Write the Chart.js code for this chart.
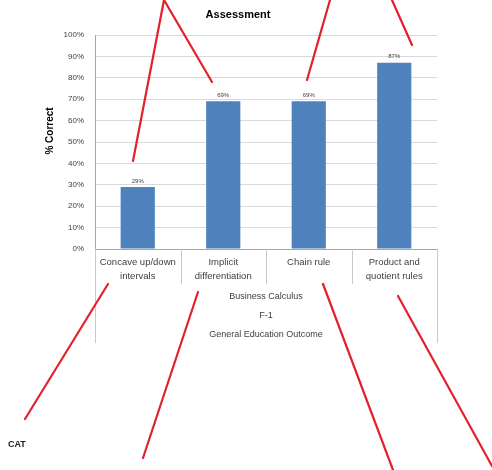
<!DOCTYPE html>
<html>
<head>
<meta charset="utf-8">
<script src="https://cdn.jsdelivr.net/npm/chart.js@4/dist/chart.umd.min.js"></script>
<style>
  html, body { margin: 0; padding: 0; background: #fff; }
  #wrap { position: relative; width: 492px; height: 470px; }
</style>
</head>
<body>
<div id="wrap"><canvas id="c" width="492" height="470"></canvas></div>
<script>
// ---- data ----
const categories = [
  ['Concave up/down', 'intervals'],
  ['Implicit', 'differentiation'],
  ['Chain rule'],
  ['Product and', 'quotient rules']
];
const groupLabels = ['Business Calculus', 'F-1', 'General Education Outcome'];
const percentCorrect = [29, 69, 69, 87];
const chartTitle = 'Assessment';
const yAxisTitle = '% Correct';
const cornerText = 'CAT';

// ---- decorative red overlay strokes (annotation, not data) ----
const overlayStrokes = [
  [[164, 0], [133, 161]],
  [[164, 0], [212, 82]],
  [[330, 0], [307, 80]],
  [[392, 0], [412, 45]],
  [[108, 284], [25, 419]],
  [[198, 292], [143, 458]],
  [[323, 284], [393, 470]],
  [[398, 296], [492, 466]]
];

const FONT = "'Liberation Sans', Arial, sans-serif";

const decorPlugin = {
  id: 'decor',
  afterDraw(chart) {
    const ctx = chart.ctx;
    const x = chart.scales.x;
    const area = chart.chartArea;
    ctx.save();
    // multi-level category separators
    ctx.strokeStyle = '#c9c9c9';
    ctx.lineWidth = 1;
    const n = categories.length;
    const step = (x.right - x.left) / n;
    for (let i = 0; i <= n; i++) {
      const px = Math.round(x.left + i * step) + 0.5;
      const bottom = (i === 0 || i === n) ? area.bottom + 94 : area.bottom + 35;
      ctx.beginPath();
      ctx.moveTo(px, area.bottom);
      ctx.lineTo(px, bottom);
      ctx.stroke();
    }
    // data labels
    const meta = chart.getDatasetMeta(0);
    ctx.fillStyle = '#404040';
    ctx.font = '6px ' + FONT;
    ctx.textAlign = 'center';
    ctx.textBaseline = 'bottom';
    meta.data.forEach((bar, i) => {
      ctx.fillText(percentCorrect[i] + '%', bar.x, bar.y - 3);
    });
    // title
    ctx.fillStyle = '#000';
    ctx.font = 'bold 11px ' + FONT;
    ctx.textBaseline = 'middle';
    ctx.fillText(chartTitle, 238, 15);
    // y axis title
    ctx.save();
    ctx.translate(50, 131);
    ctx.rotate(-Math.PI / 2);
    ctx.font = 'bold 10px ' + FONT;
    ctx.fillText(yAxisTitle, 0, 0);
    ctx.restore();
    // corner text
    ctx.textAlign = 'left';
    ctx.font = 'bold 9px ' + FONT;
    ctx.fillStyle = '#222';
    ctx.fillText(cornerText, 8, 445);
    // red overlay strokes
    ctx.strokeStyle = '#e3202c';
    ctx.lineWidth = 2.2;
    ctx.lineCap = 'round';
    overlayStrokes.forEach(s => {
      ctx.beginPath();
      ctx.moveTo(s[0][0], s[0][1]);
      ctx.lineTo(s[1][0], s[1][1]);
      ctx.stroke();
    });
    ctx.restore();
  }
};

new Chart(document.getElementById('c'), {
  type: 'bar',
  data: {
    labels: categories,
    datasets: [{
      data: percentCorrect,
      backgroundColor: '#4f81bd',
      borderWidth: 0,
      barPercentage: 0.4,
      categoryPercentage: 1.0
    }]
  },
  options: {
    responsive: false,
    animation: false,
    devicePixelRatio: 1,
    layout: { padding: { top: 35, left: 0, right: 55, bottom: 0 } },
    plugins: { legend: { display: false }, tooltip: { enabled: false }, title: { display: false } },
    scales: {
      y: {
        min: 0, max: 100,
        afterFit(s) { s.width = 95; },
        ticks: {
          stepSize: 10,
          padding: 11,
          color: '#404040',
          font: { family: FONT, size: 8 },
          callback: v => v + '%'
        },
        grid: { color: '#d9d9d9', drawTicks: false },
        border: { color: '#a6a6a6' }
      },
      x: {
        afterFit(s) { s.height = 221; },
        ticks: {
          padding: 7,
          color: '#404040',
          maxRotation: 0,
          autoSkip: false,
          font: { family: FONT, size: 9.5, lineHeight: 1.4 }
        },
        grid: { display: false, drawTicks: false },
        border: { color: '#a6a6a6' },
        title: {
          display: true,
          text: groupLabels,
          color: '#404040',
          font: { family: FONT, size: 9, lineHeight: 2.1 },
          padding: { top: 0, bottom: 126 }
        }
      }
    }
  },
  plugins: [decorPlugin]
});
</script>
</body>
</html>
